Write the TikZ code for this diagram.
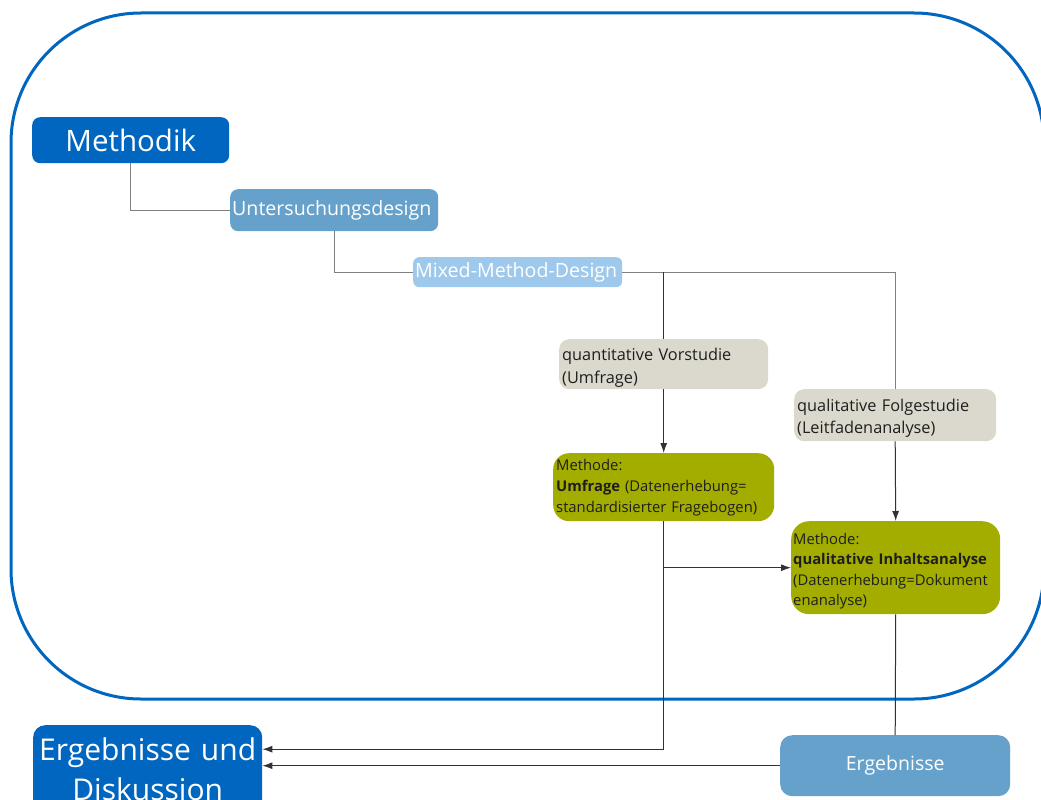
\documentclass[tikz,border=0pt]{standalone}
\usepackage{fontspec}
\setmainfont{Open Sans}
\usetikzlibrary{arrows.meta,calc}
\definecolor{dblue}{RGB}{0,102,191}
\definecolor{mblue}{RGB}{101,161,203}
\definecolor{lblue}{RGB}{158,201,236}
\definecolor{beige}{RGB}{219,217,205}
\definecolor{olive}{RGB}{163,173,0}
\definecolor{gline}{RGB}{128,128,128}
\definecolor{dline}{RGB}{50,50,50}
\definecolor{dtext}{RGB}{30,30,30}
\tikzset{
  box/.style={anchor=north west, inner xsep=3pt, inner ysep=0pt, align=left},
  bluebox/.style={box, fill=dblue, text=white, rounded corners=8pt},
  midbox/.style={box, fill=mblue, text=white, rounded corners=8pt},
  lightbox/.style={box, fill=lblue, text=white, rounded corners=6pt},
  beigebox/.style={box, fill=beige, text=dtext, rounded corners=10pt},
  olivebox/.style={box, fill=olive, text=dtext, rounded corners=16pt},
  grayline/.style={draw=gline, line width=1.3pt},
  darkline/.style={draw=dline, line width=1pt},
  arr/.style={darkline, -{Latex[length=10pt,width=7pt]}}
}
\begin{document}
\begin{tikzpicture}[x=1pt,y=-1pt]
\useasboundingbox (0,0) rectangle (1041,800);
\begin{scope}
\clip (0,0) rectangle (1041,800);
\draw[draw=dblue, line width=3pt, rounded corners=130pt] (11,13) rectangle (1044,699);

\node[bluebox, minimum width=197pt, minimum height=46pt, align=center, text width=191pt,
  font={\fontsize{29.5}{34}\selectfont}] (meth) at (32,117) {Methodik};
\node[midbox, minimum width=208pt, minimum height=42pt, text width=204pt, inner xsep=2pt,
  font={\fontsize{19.6}{24}\selectfont}] (unt) at (230,189) {Untersuchungsdesign};
\node[lightbox, minimum width=209pt, minimum height=30pt, text width=205pt, inner xsep=2pt,
  font={\fontsize{19.6}{24}\selectfont}] (mix) at (413,257) {\mbox{Mixed-Method-Design}\hss};
\node[beigebox, minimum width=209pt, minimum height=50pt, text width=203pt,
  font={\fontsize{16.3}{23}\selectfont}] (quant) at (559,339) {\rule{0pt}{19pt}quantitative Vorstudie\\(Umfrage)};
\node[beigebox, minimum width=202pt, minimum height=52pt, text width=196pt,
  font={\fontsize{16.3}{22}\selectfont}] (fol) at (794,389) {\rule{0pt}{19pt}qualitative Folgestudie\\(Leitfadenanalyse)};
\node[olivebox, minimum width=221pt, minimum height=68pt, text width=215pt,
  font={\fontsize{14.8}{21}\selectfont}] (umf) at (553,453)
  {Methode:\\\textbf{Umfrage} (Datenerhebung=\\standardisierter Fragebogen)};
\node[olivebox, minimum width=209pt, minimum height=93pt, text width=205pt, inner xsep=2pt, rounded corners=18pt,
  font={\fontsize{14.8}{20.6}\selectfont}] (inh) at (791,521)
  {\rule{0pt}{18pt}Methode:\\\textbf{qualitative Inhaltsanalyse}\\(Datenerhebung=Dokument\\enanalyse)};
\node[bluebox, minimum width=229pt, minimum height=88pt, text width=229pt, inner xsep=0pt, align=center, rounded corners=12pt,
  font={\fontsize{30}{40}\selectfont}] (ed) at (33,725) {Ergebnisse und\\Diskussion};
\node[midbox, minimum width=230pt, minimum height=61pt, text width=224pt, align=center, rounded corners=12pt,
  font={\fontsize{19.5}{24}\selectfont}] (erg) at (780,735) {Ergebnisse};

\draw[grayline] (meth.south) |- (unt.west);
\draw[grayline] (unt.south) |- (mix.west);
\draw[grayline] (mix.east) -- (mix.east -| fol.north) -- (fol.north);
\draw[darkline] (mix.east -| quant.north) -- (quant.north);
\draw[arr] (quant.south) -- (umf.north);
\draw[arr] (fol.south) -- (inh.north);
\draw[arr] (umf.south |- inh.west) -- (inh.west);
\draw[arr] (umf.south) |- ([yshift=20pt]ed.east);
\draw[darkline] (inh.south) -- (erg.north);
\draw[arr] (erg.west) -- (erg.west -| ed.east);
\end{scope}
\end{tikzpicture}
\end{document}
